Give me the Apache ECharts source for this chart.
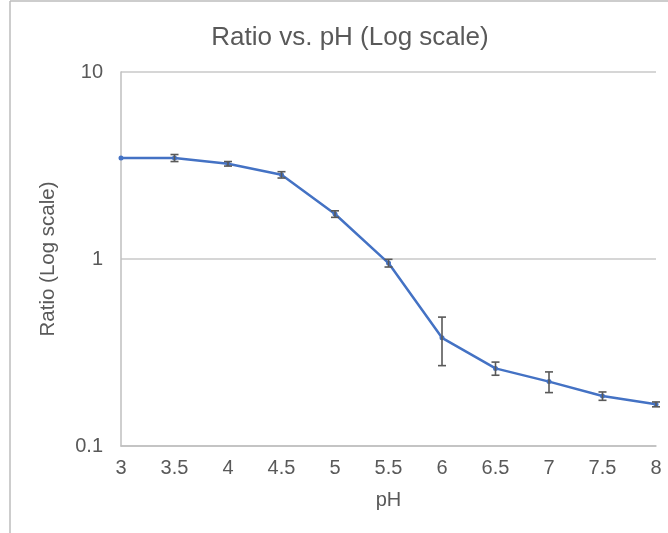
<!DOCTYPE html>
<html>
<head>
<meta charset="utf-8">
<script src="https://cdn.jsdelivr.net/npm/echarts@6/dist/echarts.min.js"></script>
<style>
html,body{margin:0;padding:0;background:#fff;}
#chart{width:668px;height:533px;}
</style>
</head>
<body>
<div id="chart"></div>
<script>
const pH = [3, 3.5, 4, 4.5, 5, 5.5, 6, 6.5, 7, 7.5, 8];
const ratio = [3.47, 3.47, 3.23, 2.82, 1.74, 0.951, 0.379, 0.260, 0.221, 0.185, 0.167];
const ratioErr = [0, 0.15, 0.09, 0.11, 0.07, 0.045, 0.11, 0.021, 0.028, 0.0095, 0.005];
const xTicks = [3, 3.5, 4, 4.5, 5, 5.5, 6, 6.5, 7, 7.5, 8];
const yTicks = [0.1, 1, 10];

const lineData = pH.map((x, i) => [x, ratio[i]]);
const errData = pH.map((x, i) => [x, ratio[i] - ratioErr[i], ratio[i] + ratioErr[i]]);

const FONT = 'Liberation Sans, Arial, sans-serif';
const TXT = '#595959';

const chart = echarts.init(document.getElementById('chart'), null, {renderer: 'canvas'});
chart.setOption({
  animation: false,
  backgroundColor: '#fff',
  title: {
    text: 'Ratio vs. pH (Log scale)',
    left: 345,
    textAlign: 'center',
    top: 20,
    textStyle: {fontFamily: FONT, fontSize: 26, fontWeight: 'normal', color: TXT}
  },
  graphic: [
    {type: 'line', shape: {x1: 10, y1: 1, x2: 668, y2: 1}, style: {stroke: '#bdbdbd', lineWidth: 1.5}},
    {type: 'line', shape: {x1: 10, y1: 1, x2: 10, y2: 533}, style: {stroke: '#bdbdbd', lineWidth: 1.5}}
  ],
  grid: {left: 121, right: 12, top: 72, bottom: 87},
  xAxis: {
    type: 'value',
    min: 3, max: 8, interval: 0.5,
    name: 'pH',
    nameLocation: 'middle',
    nameGap: 44,
    nameTextStyle: {fontFamily: FONT, fontSize: 20, color: TXT},
    axisLine: {show: true, lineStyle: {color: '#bfbfbf', width: 1.5}},
    axisTick: {show: false},
    splitLine: {show: false},
    axisLabel: {
      margin: 12, fontFamily: FONT, fontSize: 20, color: TXT,
      formatter: v => xTicks.includes(v) ? String(v) : ''
    }
  },
  yAxis: {
    type: 'log',
    logBase: 10,
    min: yTicks[0], max: yTicks[yTicks.length - 1],
    name: 'Ratio (Log scale)',
    nameLocation: 'middle',
    nameGap: 62,
    nameTextStyle: {fontFamily: FONT, fontSize: 20.5, color: TXT},
    axisLine: {show: true, lineStyle: {color: '#bfbfbf', width: 1.5}},
    axisTick: {show: false},
    splitLine: {show: true, lineStyle: {color: '#c8c8c8', width: 1.5}},
    axisLabel: {
      margin: 18, fontFamily: FONT, fontSize: 20, color: TXT,
      formatter: v => String(v)
    }
  },
  series: [
    {
      type: 'line',
      data: lineData,
      symbol: 'circle',
      symbolSize: 5,
      itemStyle: {color: '#4472C4'},
      lineStyle: {color: '#4472C4', width: 2.5},
      z: 3
    },
    {
      type: 'custom',
      data: errData,
      z: 4,
      renderItem: function (params, api) {
        const x = api.value(0);
        const lo = api.coord([x, api.value(1)]);
        const hi = api.coord([x, api.value(2)]);
        if (Math.abs(hi[1] - lo[1]) < 0.5) return null;
        const w = 4;
        const st = {stroke: '#595959', lineWidth: 1.6};
        return {
          type: 'group',
          children: [
            {type: 'line', shape: {x1: lo[0], y1: lo[1], x2: hi[0], y2: hi[1]}, style: st},
            {type: 'line', shape: {x1: lo[0] - w, y1: lo[1], x2: lo[0] + w, y2: lo[1]}, style: st},
            {type: 'line', shape: {x1: hi[0] - w, y1: hi[1], x2: hi[0] + w, y2: hi[1]}, style: st}
          ]
        };
      }
    }
  ]
});
</script>
</body>
</html>
